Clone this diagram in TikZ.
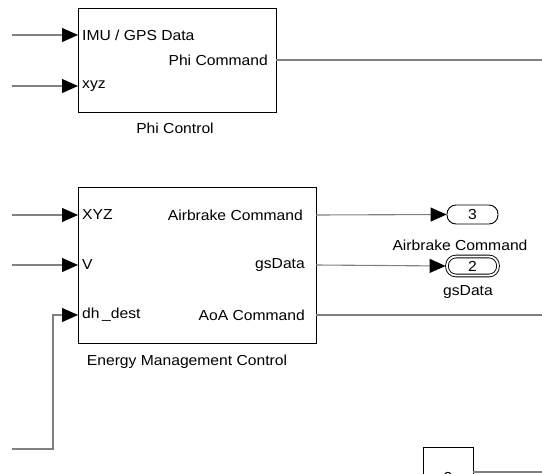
\documentclass[tikz,border=0pt]{standalone}
\usepackage{fontspec}
\setmainfont{Liberation Sans}
\usetikzlibrary{arrows.meta}
\tikzset{
  blk/.style={draw=black, line width=0.9pt, fill=white},
  wire/.style={draw=black!50, line width=1.1pt},
  sig/.style={wire, -{Triangle[length=16pt,width=14pt,fill=black,color=black]}},
  port/.style={font=\fontsize{14.5}{16}\selectfont, inner sep=0pt},
  lbl/.style={font=\fontsize{14.5}{16}\selectfont, inner sep=0pt},
  outport/.style={draw=black, line width=0.9pt, rounded corners=9pt, minimum width=51pt, minimum height=19pt, inner sep=0pt, font=\fontsize{14.5}{16}\selectfont},
}
\begin{document}
\begin{tikzpicture}[x=1pt,y=-1pt]
  \useasboundingbox (0,0) rectangle (542,474);

  % Phi Control subsystem
  \draw[blk] (78,8) rectangle (276,112);
  \coordinate (phiIn1) at (78,35);
  \coordinate (phiIn2) at (78,86);
  \coordinate (phiOut) at (276,60);
  \node[port, anchor=west] (phiL1) at (82,35) {\scalebox{1.08}[1]{IMU / GPS Data}};
  \node[port, anchor=west] (phiL2) at (82,86) {\scalebox{1.08}[1]{xyz}};
  \node[port, anchor=east] (phiR1) at (268,60) {\scalebox{1.08}[1]{Phi Command}};
  \node[lbl] (phiName) at (175,128) {\scalebox{1.08}[1]{Phi Control}};

  % Energy Management Control subsystem
  \draw[blk] (78,187) rectangle (316,343);
  \coordinate (emIn1) at (78,215);
  \coordinate (emIn2) at (78,265);
  \coordinate (emIn3) at (78,315);
  \coordinate (emOut1) at (316,215);
  \coordinate (emOut2) at (316,265);
  \coordinate (emOut3) at (316,315);
  \node[port, anchor=west] (emL1) at (82,215) {\scalebox{1.08}[1]{XYZ}};
  \node[port, anchor=west] (emL2) at (82,265) {\scalebox{1.08}[1]{V}};
  \node[port, anchor=west] (emL3) at (82,315) {\scalebox{1.08}[1]{dh\,\_dest}};
  \node[port, anchor=east] (emR1) at (303,215) {\scalebox{1.08}[1]{Airbrake Command}};
  \node[port, anchor=east] (emR2) at (305,265) {\scalebox{1.08}[1]{gsData}};
  \node[port, anchor=east] (emR3) at (305,315) {\scalebox{1.08}[1]{AoA Command}};
  \node[lbl] (emName) at (187,362) {\scalebox{1.08}[1]{Energy Management Control}};

  % Outports
  \node[outport] (out3) at (472.5,214.5) {\scalebox{1.08}[1]{3}};
  \node[lbl] (out3L) at (460,245) {\scalebox{1.08}[1]{Airbrake Command}};
  \node[outport, double, double distance=1.8pt] (out2) at (472.5,266) {\scalebox{1.08}[1]{2}};
  \node[lbl] (out2L) at (468,292) {\scalebox{1.08}[1]{gsData}};

  % Constant block, cut off by the lower edge
  \draw[blk] (423,447) rectangle (473,500);
  \node[lbl] (cst) at (448,478) {\scalebox{1.08}[1]{0}};
  \coordinate (cstOut) at (473,472);

  % free line ends
  \coordinate (s1) at (12,35);
  \coordinate (s2) at (12,86);
  \coordinate (s3) at (12,215);
  \coordinate (s4) at (12,265);
  \coordinate (s5) at (12,449);
  \coordinate (bend) at (53,449);
  \coordinate (e1) at (542,60);
  \coordinate (e2) at (542,315);
  \coordinate (e3) at (542,472);

  % connectors
  \draw[sig] (s1) -- (phiIn1);
  \draw[sig] (s2) -- (phiIn2);
  \draw[wire] (phiOut) -- (e1);
  \draw[sig] (s3) -- (emIn1);
  \draw[sig] (s4) -- (emIn2);
  \draw[sig] (s5) -- (bend) |- (emIn3);
  \draw[sig] (emOut1) -- (out3.west);
  \draw[sig] (emOut2) -- ([xshift=-1pt]out2.west);
  \draw[wire] (emOut3) -- (e2);
  \draw[wire] (cstOut) -- (e3);
\end{tikzpicture}
\end{document}
